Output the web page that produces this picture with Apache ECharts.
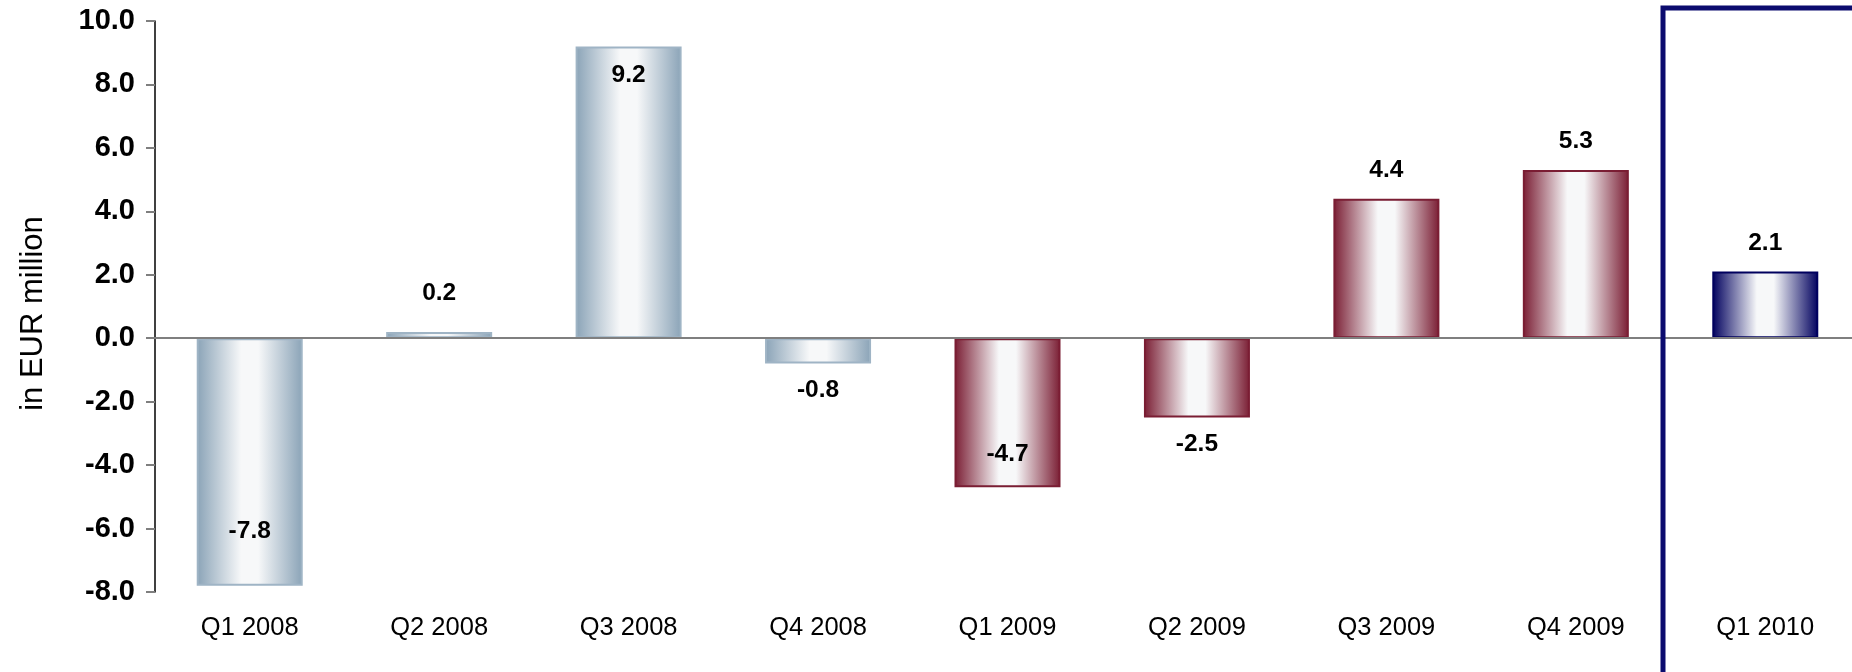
<!DOCTYPE html>
<html>
<head>
<meta charset="utf-8">
<script src="https://cdn.jsdelivr.net/npm/echarts@6/dist/echarts.min.js"></script>
<style>
  html, body { margin: 0; padding: 0; background: #ffffff; overflow: hidden; }
  /* the last category band runs a little past the right edge of the page */
  #chart { width: 1872px; height: 672px; }
</style>
</head>
<body>
<div id="chart"></div>
<script>
// Quarterly result, in EUR million
const categories = ['Q1 2008', 'Q2 2008', 'Q3 2008', 'Q4 2008', 'Q1 2009', 'Q2 2009', 'Q3 2009', 'Q4 2009', 'Q1 2010'];
const values = [-7.8, 0.2, 9.2, -0.8, -4.7, -2.5, 4.4, 5.3, 2.1];
const yTicks = { min: -8, max: 10, step: 2 };

// Bar colouring by year: dark edges fading to white in the middle
const yearStyle = {
  '2008': { edge: '#8aa3b7', border: '#9fb4c5' },
  '2009': { edge: '#7a1d33', border: '#7a1d33' },
  '2010': { edge: '#00005e', border: '#00005e' }
};

// Label placement overrides per category
const labelPlacement = {
  'Q1 2008': { position: 'insideBottom', distance: 42 },
  'Q2 2008': { position: 'top', distance: 26 },
  'Q3 2008': { position: 'insideTop', distance: 16 },
  'Q1 2009': { position: 'insideBottom', distance: 21 }
};

function barFill(edge) {
  return {
    type: 'linear', x: 0, y: 0, x2: 1, y2: 0,
    colorStops: [
      { offset: 0, color: edge },
      { offset: 0.42, color: '#f7f8f9' },
      { offset: 0.58, color: '#f7f8f9' },
      { offset: 1, color: edge }
    ]
  };
}

const barData = values.map((v, i) => {
  const cat = categories[i];
  const st = yearStyle[cat.split(' ')[1]];
  const place = labelPlacement[cat];
  const label = place
    ? { position: place.position, distance: place.distance }
    : { position: v >= 0 ? 'top' : 'bottom', distance: v >= 0 ? 16 : 14 };
  return {
    value: v,
    itemStyle: { color: barFill(st.edge), borderColor: st.border, borderWidth: 2 },
    label: label
  };
});

const chart = echarts.init(document.getElementById('chart'), null, { renderer: 'canvas' });

const font = 'Liberation Sans, Arial, sans-serif';

chart.setOption({
  animation: false,
  backgroundColor: '#ffffff',
  grid: { left: 155, top: 21, bottom: 80, width: 1705, containLabel: false },
  xAxis: {
    type: 'category',
    data: categories,
    position: 'bottom',
    axisLine: { show: false, onZero: false },
    axisTick: { show: false },
    axisLabel: { margin: 23, fontFamily: font, fontSize: 25.5, color: '#000000' },
    splitLine: { show: false }
  },
  yAxis: {
    type: 'value',
    min: yTicks.min,
    max: yTicks.max,
    interval: yTicks.step,
    name: 'in EUR million',
    nameLocation: 'middle',
    nameGap: 106,
    nameRotate: 90,
    nameTextStyle: { fontFamily: font, fontSize: 31, color: '#000000', padding: [0, 14, 0, 0] },
    axisLine: { show: true, lineStyle: { color: '#000000', width: 1.5 } },
    axisTick: { show: true, inside: false, length: 9, lineStyle: { color: '#7f7f7f', width: 2 } },
    axisLabel: {
      margin: 20,
      fontFamily: font,
      fontSize: 29,
      fontWeight: 'bold',
      color: '#000000',
      formatter: v => v.toFixed(1)
    },
    splitLine: { show: false }
  },
  series: [{
    type: 'bar',
    data: barData,
    barWidth: 106,
    label: {
      show: true,
      fontFamily: font,
      fontSize: 24.5,
      fontWeight: 'bold',
      color: '#000000',
      formatter: p => p.value.toFixed(1)
    },
    markLine: {
      silent: true,
      symbol: ['none', 'none'],
      label: { show: false },
      lineStyle: { color: '#7f7f7f', width: 2, type: 'solid' },
      data: [{ yAxis: 0 }]
    }
  }],
  graphic: [{
    type: 'polyline',
    z: 100,
    shape: { points: [[1663, 690], [1663, 8], [1880, 8]] },
    style: { stroke: '#0b0b6e', lineWidth: 5, fill: null }
  }]
});
</script>
</body>
</html>
